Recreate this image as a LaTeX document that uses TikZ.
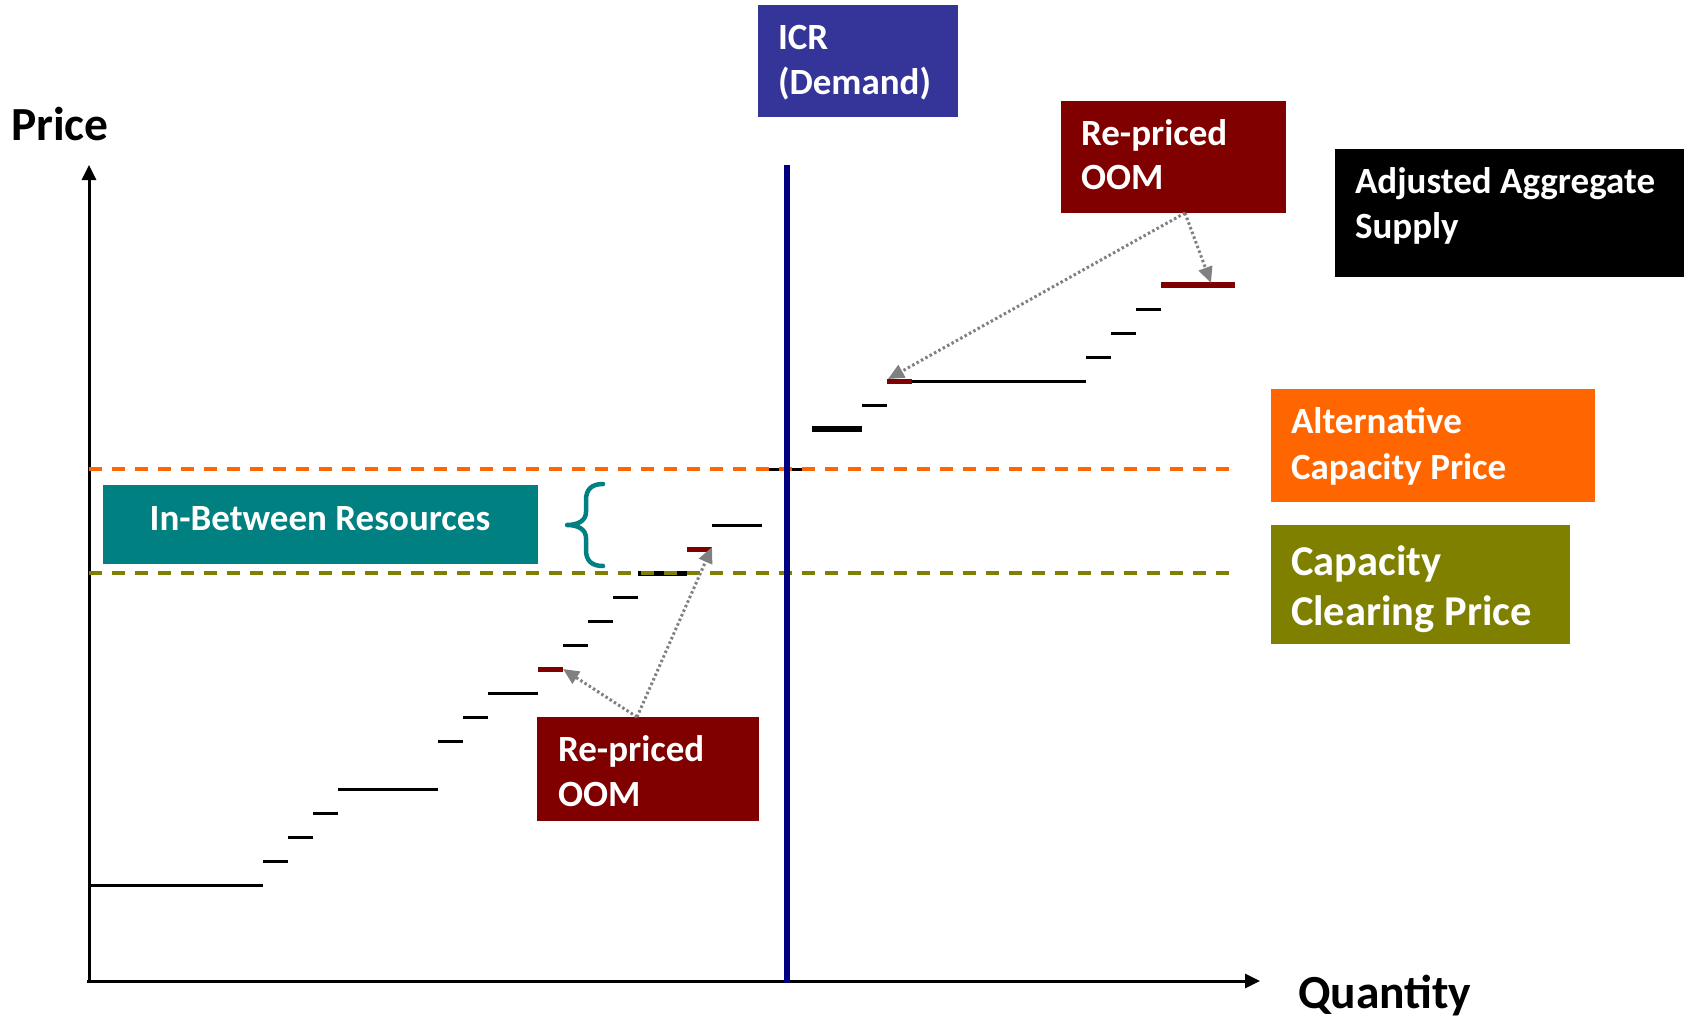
\documentclass[tikz,border=0pt]{standalone}
\usepackage{fontspec}
\setmainfont{Carlito}
\usetikzlibrary{arrows.meta,calc}
\definecolor{icrblue}{HTML}{343499}
\definecolor{oomred}{HTML}{800000}
\definecolor{altorange}{HTML}{FF6600}
\definecolor{ccpolive}{HTML}{808000}
\definecolor{ibrteal}{HTML}{008080}
\definecolor{demandnavy}{HTML}{000080}
\definecolor{arrowgray}{HTML}{808080}
\begin{document}
\begin{tikzpicture}[x=1pt,y=-1pt,
  box/.style={draw=none, inner sep=0pt, outer sep=0pt, anchor=north west},
  lbl/.style={anchor=base west, inner sep=0pt, outer sep=0pt, text=white, font=\bfseries\fontsize{37}{45}\selectfont},
  biglbl/.style={lbl, font=\bfseries\fontsize{42.5}{50}\selectfont},
  axislbl/.style={anchor=base west, inner sep=0pt, outer sep=0pt, text=black, font=\bfseries\fontsize{47.5}{50}\selectfont},
  stepline/.style={black, line width=3pt, line cap=butt},
  redstep/.style={oomred, line width=5pt, line cap=butt},
  axis/.style={black, line width=3pt, -{Triangle[length=15pt,width=14pt]}},
  ptr/.style={arrowgray, line width=3pt, dash pattern=on 2.5pt off 2.5pt, -{Triangle[length=16pt,width=14pt]}},
  priceline/.style={line width=3.5pt, dash pattern=on 13pt off 10pt}
]
\useasboundingbox (0,0) rectangle (1684,1020);

% axes
\coordinate (origin) at (89,981);
\coordinate (ytop) at (89,165);
\coordinate (xend) at (1260,981);
\draw[axis] ($(origin)+(0,2)$) -- (ytop);
\draw[axis] ($(origin)+(-2,0)$) -- (xend);
\node[axislbl] (pricelbl) at (11,140) {Price};
\node[axislbl, font=\bfseries\fontsize{47.5}{50}\selectfont] (qtylbl) at (1298,1008) {Quantity};

% supply steps
\foreach \a/\b/\c in {89/263/885, 263/288/861, 288/313/837, 313/338/813, 338/438/789,
  438/463/741, 463/488/717, 488/538/693, 563/588/645, 588/613/621, 613/638/597,
  712/762/525, 762/812/469, 862/887/405, 912/1086/381, 1086/1111/357, 1111/1136/333, 1136/1161/309}
  \draw[stepline] (\a,\c) -- (\b,\c);
\draw[stepline, line width=5pt] (638,573) -- (687,573);
\draw[stepline, line width=6pt] (812,429) -- (862,429);
\foreach \a/\b/\c in {538/563/669, 687/712/549, 887/912/381}
  \draw[redstep] (\a,\c) -- (\b,\c);
\draw[redstep, line width=6pt] (1161,285) -- (1235,285);

% price lines
\draw[priceline, altorange] (89,469) -- (1234,469);
\draw[priceline, ccpolive] (89,573) -- (1236,573);

% demand line
\draw[demandnavy, line width=6pt] (787,165) -- (787,983);

% boxes
\node[box, fill=icrblue, minimum width=200pt, minimum height=112pt] (icr) at (758,5) {};
\node[lbl] (icrt1) at (778,49) {ICR};
\node[lbl] (icrt2) at (778,94) {(Demand)};

\node[box, fill=oomred, minimum width=225pt, minimum height=112pt] (oomt) at (1061,101) {};
\node[lbl] (oomt1) at (1081,145) {Re-priced};
\node[lbl] (oomt2) at (1081,189) {OOM};

\node[box, fill=black, minimum width=349pt, minimum height=128pt] (aas) at (1335,149) {};
\node[lbl] (aas1) at (1355,193) {Adjusted Aggregate};
\node[lbl] (aas2) at (1355,238) {Supply};

\node[box, fill=altorange, minimum width=324pt, minimum height=113pt] (acp) at (1271,389) {};
\node[lbl] (acp1) at (1291,433) {Alternative};
\node[lbl] (acp2) at (1291,479) {Capacity Price};

\node[box, fill=ccpolive, minimum width=299pt, minimum height=119pt] (ccp) at (1271,525) {};
\node[biglbl] (ccp1) at (1291,575) {Capacity};
\node[biglbl] (ccp2) at (1291,625) {Clearing Price};

\node[box, fill=ibrteal, minimum width=435pt, minimum height=79pt] (ibr) at (103,485) {};
\node[lbl, anchor=base] (ibrt) at (320,530) {In-Between Resources};

\node[box, fill=oomred, minimum width=222pt, minimum height=104pt] (oomb) at (537,717) {};
\node[lbl] (oomb1) at (558,761) {Re-priced};
\node[lbl] (oomb2) at (558,806) {OOM};

% brace
\draw[ibrteal, line width=4.5pt, line cap=round, line join=round]
  (603,484) .. controls (591,484) and (586,490) .. (586,500) -- (586,512)
  .. controls (586,520) and (579,525) .. (567,525)
  .. controls (579,525) and (586,530) .. (586,538) -- (586,550)
  .. controls (586,560) and (591,566) .. (603,566);

% re-priced pointers
\coordinate (t0) at ($(oomt.south west)+(124,0)$);
\coordinate (b0) at ($(oomb.north west)+(100,0)$);
\coordinate (r1) at (563,669);
\coordinate (r2) at (712,547);
\coordinate (r3) at (888,379);
\coordinate (r4) at (1211,283);
\draw[ptr] (b0) -- (r1);
\draw[ptr] (b0) -- (r2);
\draw[ptr] (t0) -- (r3);
\draw[ptr] (t0) -- (r4);
\end{tikzpicture}
\end{document}
